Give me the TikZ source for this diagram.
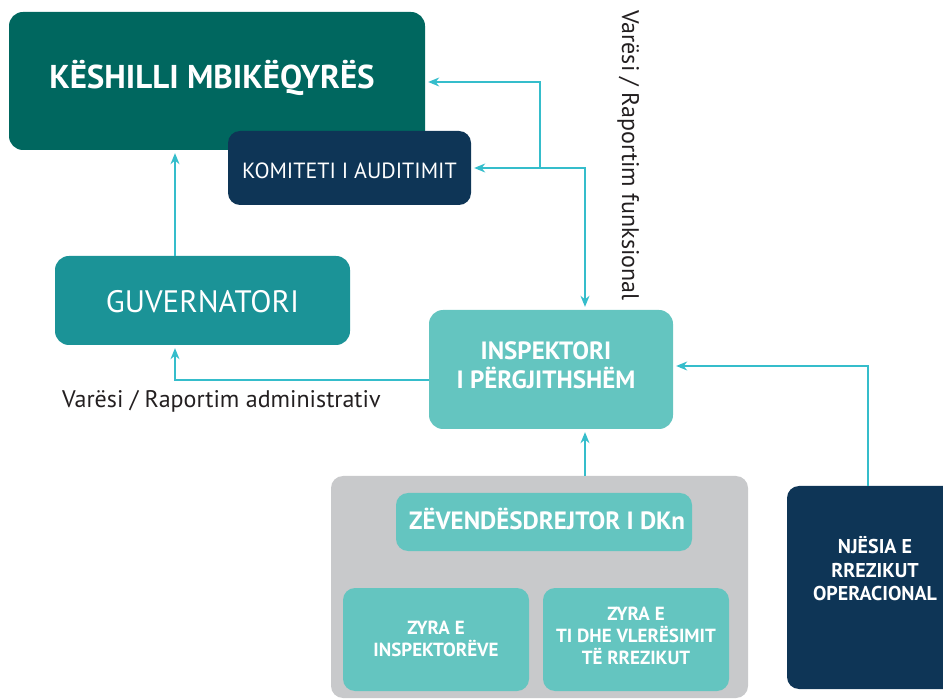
\documentclass[tikz,border=0pt]{standalone}
\usepackage{fontspec}
\setmainfont{PT Sans}
\usetikzlibrary{arrows.meta}
\definecolor{kesc}{HTML}{00675F}
\definecolor{navyc}{HTML}{0E3556}
\definecolor{guvc}{HTML}{1B9397}
\definecolor{lightc}{HTML}{64C5C0}
\definecolor{greyc}{HTML}{C8C9CB}
\definecolor{arrowc}{HTML}{35BDCB}
\definecolor{labelc}{HTML}{231F20}
\newcommand\mytop[1]{\rule{0pt}{#1}}
\newcommand\mybot[1]{\rule[-#1]{0pt}{#1}}
\begin{document}
\begin{tikzpicture}[x=1pt,y=-1pt,
  >={Stealth[length=11pt,width=9pt,inset=3.5pt]},
  box/.style={rectangle, rounded corners=#1, inner sep=0pt, align=center, text=white},
  box/.default=12pt,
  conn/.style={draw=arrowc, line width=1.2pt, ->, shorten >=3pt},
  lbl/.style={text=labelc, inner sep=0pt, font=\fontsize{24}{28}\selectfont}]
\useasboundingbox (0,0) rectangle (943,700);

% grey group
\node[box, fill=greyc, minimum width=417pt, minimum height=222pt] (grp) at (539.5,587) {};

% boxes
\node[box=14pt, fill=kesc, minimum width=416pt, minimum height=138pt,
  font=\fontsize{33}{40}\selectfont\bfseries, text height=24.1pt, text depth=10pt]
  (kes) at (217,81) {KËSHILLI MBIKËQYRËS\hspace*{10pt}};
\node[box, fill=navyc, minimum width=243pt, minimum height=74pt,
  font=\fontsize{22}{26}\selectfont, text height=31.4pt, text depth=10pt]
  (kom) at (349.5,168) {KOMITETI I AUDITIMIT};
\node[box=14pt, fill=guvc, minimum width=295pt, minimum height=89pt,
  font=\fontsize{31}{36}\selectfont, text height=34.7pt, text depth=10pt]
  (guv) at (202.5,300.5) {GUVERNATORI};
\node[box=14pt, fill=lightc, minimum width=244pt, minimum height=119pt,
  font=\fontsize{25}{29}\selectfont\bfseries]
  (insp) at (551,369.5) {\mytop{21.5pt}INSPEKTORI\hspace*{10pt}\\I PËRGJITHSHËM\hspace*{10pt}\mybot{12pt}};
\node[box, fill=lightc, minimum width=296pt, minimum height=58pt,
  font=\fontsize{25}{30}\selectfont\bfseries, text height=24.5pt, text depth=10pt]
  (zev) at (544,522) {\hspace*{6pt}ZËVENDËSDREJTOR I DKn};
\node[box, fill=lightc, minimum width=186pt, minimum height=103pt,
  font=\fontsize{19}{22}\selectfont\bfseries]
  (zy1) at (436,639.5) {\mytop{21.3pt}ZYRA E\\INSPEKTORËVE\mybot{10pt}};
\node[box, fill=lightc, minimum width=186pt, minimum height=103pt,
  font=\fontsize{19}{22}\selectfont\bfseries]
  (zy2) at (636,639.5) {\mytop{16.3pt}ZYRA E\\TI DHE VLERËSIMIT\\TË RREZIKUT\mybot{10pt}};
\node[box, fill=navyc, minimum width=176pt, minimum height=203pt,
  font=\fontsize{20}{23.5}\selectfont\bfseries]
  (nje) at (875,587.5) {\mytop{24pt}NJËSIA E\\RREZIKUT\\OPERACIONAL\mybot{45pt}};

% labels
\node[lbl, anchor=base west] (adm) at (62,408) {Varësi / Raportim administrativ};
\node[lbl, rotate=-90, anchor=base west] (funk) at (622,10) {Varësi / Raportim funksional};

% helper coordinates
\coordinate (xg) at (175,0);
\coordinate (ya) at (0,380);
\coordinate (xf) at (585,0);
\coordinate (xb) at (540,0);
\coordinate (yk) at (0,82);
\coordinate (xn) at (868,0);
\coordinate (yn) at (0,366);

% connectors
\draw[conn] (xg |- guv.north) -- (xg |- kes.south);
\draw[conn] (insp.west |- ya) -| (xg |- guv.south);
\draw[conn, <->, shorten <=3pt] (kom.east) -| (xf |- insp.north);
\draw[conn] (xb |- kom.east) |- (kes.east |- yk);
\draw[conn] (xf |- grp.north) -- (xf |- insp.south);
\draw[conn] (xn |- nje.north) |- (insp.east |- yn);
\end{tikzpicture}
\end{document}
